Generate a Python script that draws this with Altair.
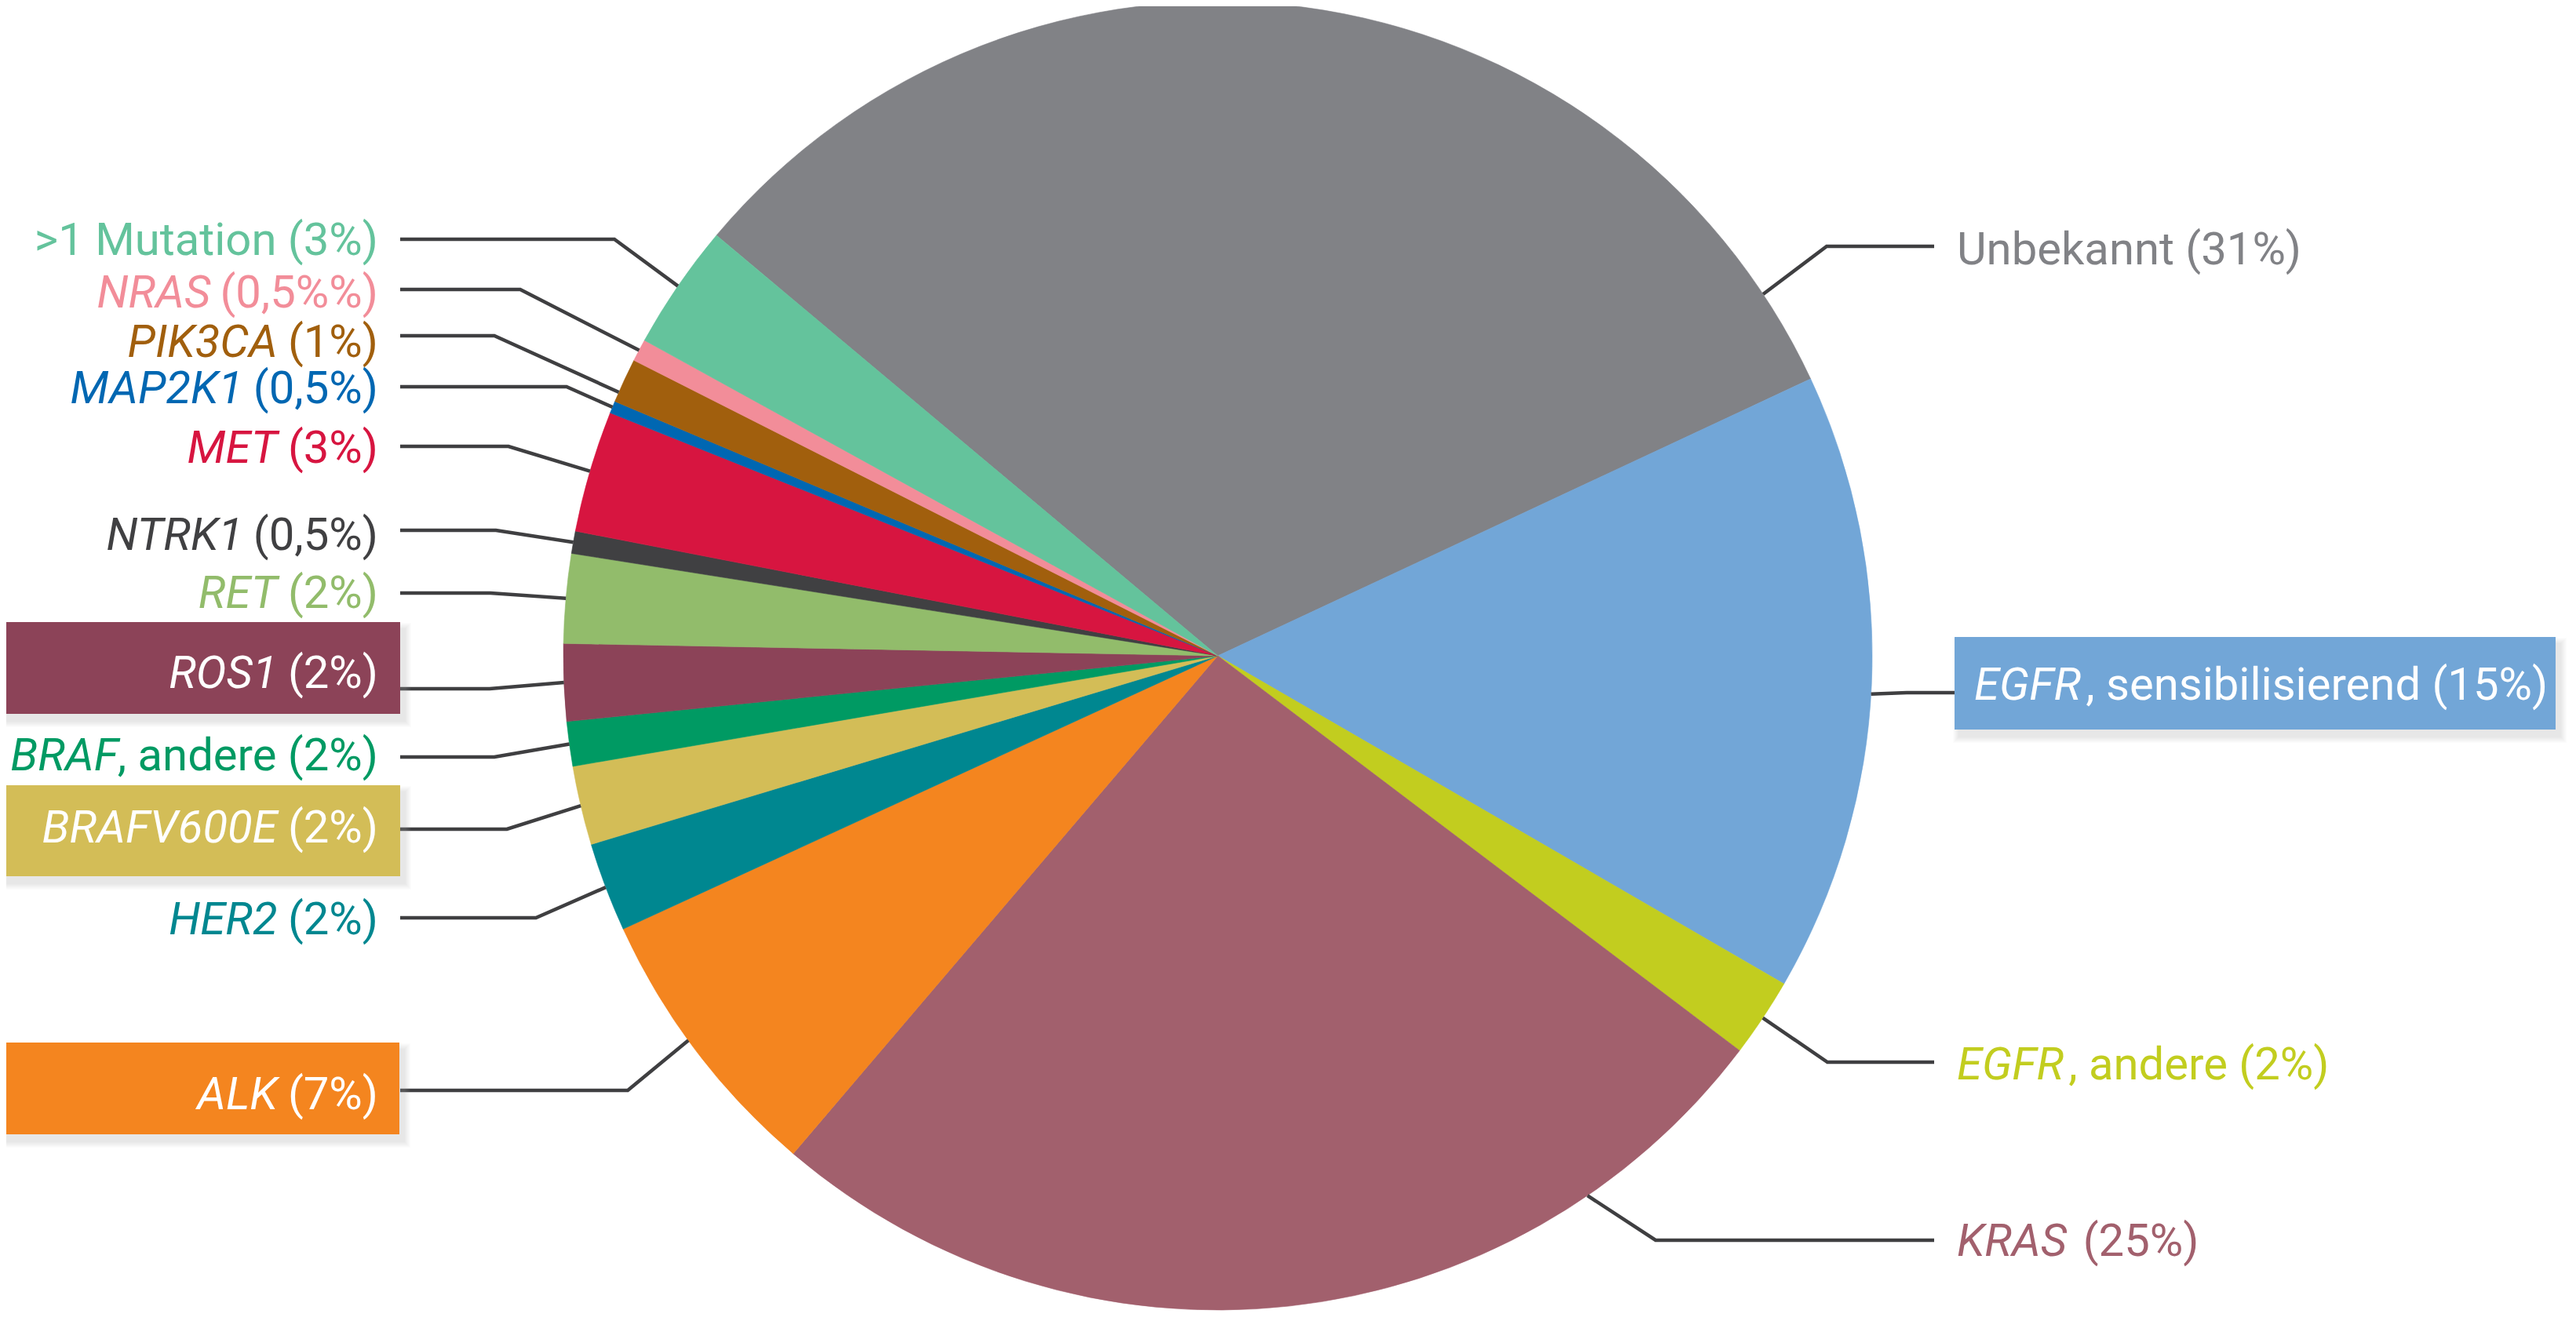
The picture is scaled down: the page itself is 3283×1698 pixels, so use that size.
import math
import altair as alt
import pandas as pd

# ---------------- data ----------------
names = ["Unbekannt", "EGFR, sensibilisierend", "EGFR, andere", "KRAS", "ALK", "HER2",
         "BRAFV600E", "BRAF, andere", "ROS1", "RET", "NTRK1", "MET", "MAP2K1",
         "PIK3CA", "NRAS", ">1 Mutation"]
# share of the circle that each slice takes in the picture
slice_share = [31.9, 15.3, 1.95, 25.9, 6.9, 2.2, 1.95, 1.1, 1.9, 2.2, 0.55, 3.0, 0.3,
               1.1, 0.55, 3.1]
# label texts: italic gene part + upright part
label_italic = ["", "EGFR", "EGFR", "KRAS", "ALK", "HER2", "BRAFV600E", "BRAF", "ROS1",
                "RET", "NTRK1", "MET", "MAP2K1", "PIK3CA", "NRAS", ""]
label_plain = ["Unbekannt (31%)", ", sensibilisierend (15%)", ", andere (2%)", " (25%)",
               " (7%)", " (2%)", " (2%)", ", andere (2%)", " (2%)", " (2%)", " (0,5%)",
               " (3%)", " (0,5%)", " (1%)", " (0,5%%)", ">1 Mutation (3%)"]

# ---------------- styles ----------------
colors = ["#818286", "#72a6d7", "#c2cd1f", "#a2606d", "#f4851f", "#008790", "#d3bd57",
          "#009a63", "#8c4358", "#92bc6b", "#404042", "#d71540", "#0067b2", "#a15f0d",
          "#f28d99", "#64c39c"]
boxed = [False, True, False, False, True, False, True, False, True, False, False, False,
         False, False, False, False]
LINE_COLOR = "#3f3f41"
FONT = "Roboto"
FS = 58

# ---------------- layout (pixel positions of the page) ----------------
W, H = 3267, 1682
CX, CY, R = 1552, 836, 834
START_DEG = 310.0
side = ["R", "R", "R", "R"] + ["L"] * 12
line_y = [314, 883, 1354, 1581, 1390, 1170, 1057, 965, 878, 756, 676, 569, 493, 428, 369, 305]
elbow_x = [2328, 2430, 2329, 2110, 800, 683, 646, 630, 624, 625, 632, 648, 722, 630, 663, 783]
line_end_x = [2465, 2491, 2465, 2465] + [510] * 12
anchor_frac = [0.926, 0.515, 0.5, 0.198, 0.545, 0.5, 0.5, 0.5, 0.5, 0.5, 0.5, 0.5, 0.5,
               0.22, 0.5, 0.5]
text_cy = [316, 871, 1355, 1580, 1393, 1170, 1053, 961, 856, 754, 680, 569, 493, 434, 371, 304]
text_x = [2494, 2516, 2494, 2494] + [482] * 12
box_x = [None, (2491, 3257), None, None, (2, 509), None, (2, 510), None, (2, 510)] + [None] * 7
box_y = [None, (812, 930), None, None, (1329, 1446), None, (1001, 1117), None, (793, 910)] + [None] * 7

# Roboto advance widths (units of 1/2048 em)
ADV = {' ': 507, '%': 1465, '(': 700, ')': 712, ',': 393, '>': 1043,
       'A': 1336, 'B': 1275, 'C': 1333, 'D': 1343, 'E': 1164, 'F': 1132, 'G': 1395,
       'H': 1460, 'I': 557, 'K': 1284, 'L': 1104, 'M': 1788, 'N': 1460, 'O': 1408,
       'P': 1292, 'R': 1261, 'S': 1217, 'T': 1222, 'U': 1328, 'V': 1303,
       'a': 1113, 'b': 1149, 'd': 1155, 'e': 1085, 'i': 496, 'k': 1038, 'l': 496,
       'n': 1130, 'r': 693, 's': 1056, 't': 669, 'u': 1129, 'o': 1168}
for d in "0123456789":
    ADV[d] = 1150


def tw(s):
    return sum(ADV.get(c, 1130) for c in s) / 2048.0 * FS


xs = alt.Scale(domain=[8, 8 + W], nice=False, zero=False)
ys = alt.Scale(domain=[8, 8 + H], nice=False, zero=False, reverse=True)
X = lambda f: alt.X(f, type="quantitative", scale=xs, axis=None)
Y = lambda f: alt.Y(f, type="quantitative", scale=ys, axis=None)

total = sum(slice_share)
a0 = math.radians(START_DEG)

# ---------------- pie ----------------
pie_df = pd.DataFrame({"name": names, "val": slice_share, "idx": list(range(len(names)))})
color_scale = alt.Scale(domain=names, range=colors)
pie = alt.Chart(pie_df).mark_arc(outerRadius=R, strokeWidth=0.6).encode(
    theta=alt.Theta("val:Q", stack=True,
                    scale=alt.Scale(domain=[0, total], range=[a0, a0 + 2 * math.pi], nice=False, zero=True)),
    order=alt.Order("idx:Q"),
    color=alt.Color("name:N", scale=color_scale, legend=None),
    stroke=alt.Stroke("name:N", scale=color_scale, legend=None),
    x=alt.X(datum=CX, type="quantitative", scale=xs, axis=None),
    y=alt.Y(datum=CY, type="quantitative", scale=ys, axis=None),
)

# soft shadow of the pie
sh_rows = [{"x": CX + 7, "y": CY + 7, "s": math.pi * (R + k) ** 2} for k in range(1, 15)]
pie_shadow = alt.Chart(pd.DataFrame(sh_rows)).mark_circle(color="#a9adb2", opacity=0.03, stroke=None).encode(
    x=X("x"), y=Y("y"), size=alt.Size("s:Q", scale=None, legend=None))

# ---------------- leader lines ----------------
rows = []
cum = 0.0
for i, n in enumerate(names):
    th = a0 + 2 * math.pi * (cum + anchor_frac[i] * slice_share[i]) / total
    cum += slice_share[i]
    ax, ay = CX + R * math.sin(th), CY - R * math.cos(th)
    rows.append({"lbl": n, "o": 0, "x": ax, "y": ay})
    rows.append({"lbl": n, "o": 1, "x": elbow_x[i], "y": line_y[i]})
    rows.append({"lbl": n, "o": 2, "x": line_end_x[i], "y": line_y[i]})
lines = alt.Chart(pd.DataFrame(rows)).mark_line(color=LINE_COLOR, strokeWidth=4.5, strokeJoin="miter").encode(
    x=X("x"), y=Y("y"), detail="lbl:N", order="o:Q")

# ---------------- label boxes ----------------
brow, bsh = [], []
for i, n in enumerate(names):
    if boxed[i]:
        (x0, x1), (y0, y1) = box_x[i], box_y[i]
        brow.append({"x": x0, "x2": x1, "y": y0, "y2": y1, "c": colors[i]})
        for k in range(1, 9):
            bsh.append({"x": x0 + 6 - k, "x2": x1 + 6 + k, "y": y0 + 9 - k, "y2": y1 + 9 + k})
box_shadow = alt.Chart(pd.DataFrame(bsh)).mark_rect(color="#a9adb2", opacity=0.035).encode(
    x=X("x"), x2="x2", y=Y("y"), y2="y2")
boxes = alt.Chart(pd.DataFrame(brow)).mark_rect().encode(
    x=X("x"), x2="x2", y=Y("y"), y2="y2", color=alt.Color("c:N", scale=None, legend=None))

# ---------------- label texts ----------------
CAP = 0.711 * FS
parts = {("it", "left"): [], ("it", "right"): [], ("pl", "left"): [], ("pl", "right"): []}
for i, n in enumerate(names):
    col = "#ffffff" if boxed[i] else colors[i]
    yb = text_cy[i] + CAP / 2
    it, pl = label_italic[i], label_plain[i]
    if side[i] == "L":
        plx = text_x[i]
        parts[("pl", "right")].append({"x": plx, "y": yb, "t": pl.strip(), "c": col})
        if it:
            parts[("it", "right")].append({"x": plx - tw(pl), "y": yb, "t": it, "c": col})
    else:
        x0 = text_x[i]
        if it:
            parts[("it", "left")].append({"x": x0, "y": yb, "t": it, "c": col})
            x0 += tw(it) + 2
        lead = len(pl) - len(pl.lstrip())
        parts[("pl", "left")].append({"x": x0 + tw(pl[:lead]), "y": yb, "t": pl.strip(), "c": col})

text_layers = []
for (style, align), recs in parts.items():
    if not recs:
        continue
    kw = dict(font=FONT, fontSize=FS, align=align, baseline="alphabetic")
    if style == "it":
        kw["fontStyle"] = "italic"
    text_layers.append(alt.Chart(pd.DataFrame(recs)).mark_text(**kw).encode(
        x=X("x"), y=Y("y"), text="t:N", color=alt.Color("c:N", scale=None, legend=None)))

chart = alt.layer(pie_shadow, pie, lines, box_shadow, boxes, *text_layers).properties(
    width=W, height=H, padding=0, autosize=alt.AutoSizeParams(type="none"),
    background="#ffffff",
).configure_view(stroke=None)

chart.save("out.html", embed_options={"renderer": "svg", "actions": False})
